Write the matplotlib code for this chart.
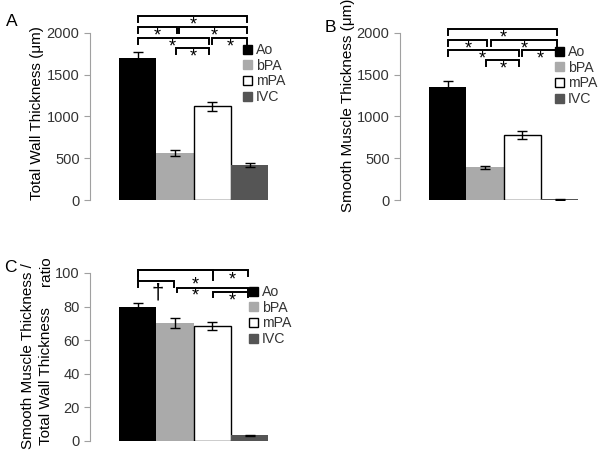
import numpy as np
import matplotlib.pyplot as plt
from matplotlib.patches import Patch

plt.rcParams['font.family'] = ['Liberation Sans', 'DejaVu Sans']
plt.rcParams['font.size'] = 10

vessels = ['Ao', 'bPA', 'mPA', 'IVC']
colors = ['black', '#aaaaaa', 'white', '#555555']

total_wall = [1700, 565, 1120, 420]
total_wall_err = [70, 35, 50, 25]

smooth_muscle = [1355, 390, 775, 10]
smooth_muscle_err = [70, 15, 50, 5]

sm_ratio = [80, 70, 68.5, 3.5]
sm_ratio_err = [2, 3, 2.5, 0.3]

fig = plt.figure(figsize=(6, 4.5), dpi=100)
W, H = 600, 450


def px_axes(left, right, bottom, top):
    return fig.add_axes([left / W, 1 - bottom / H, (right - left) / W, (bottom - top) / H])


def bar_panel(ax, vals, errs, ymax, step):
    x = np.arange(len(vals))
    for i in range(len(vals)):
        ec = 'black' if colors[i] == 'white' else 'none'
        ax.bar(x[i], vals[i], width=1.0, color=colors[i], edgecolor=ec, linewidth=1)
        ax.errorbar(x[i], vals[i], yerr=errs[i], color='black', capsize=3.5,
                    elinewidth=1, capthick=1)
    ax.set_xlim(-1.28, 3.55)
    ax.set_ylim(0, ymax)
    ax.set_yticks(np.arange(0, ymax + 1, step))
    ax.set_xticks([])
    for s in ['top', 'right', 'bottom']:
        ax.spines[s].set_visible(False)
    ax.spines['left'].set_color('#a0a0a0')
    ax.tick_params(axis='y', colors='#a0a0a0', labelcolor='#333333', length=4, labelsize=10.5)


def legend(ax, x, y):
    handles = [Patch(facecolor=c, edgecolor=('black' if c == 'white' else c)) for c in colors]
    ax.legend(handles, vessels, loc='upper left', bbox_to_anchor=(x / W, 1 - y / H),
              bbox_transform=fig.transFigure, frameon=False, handlelength=0.6,
              handleheight=0.6, handletextpad=0.3, labelspacing=0.12, borderpad=0,
              borderaxespad=0, fontsize=10.2, labelcolor='#333333')


def bracket(ax, x1, x2, y, drop):
    ax.plot([x1, x1, x2, x2], [y - drop, y, y, y - drop], color='black', lw=1.4,
            clip_on=False, solid_joinstyle='miter')


def star(ax, x, y, s='*', size=13):
    ax.text(x, y, s, ha='center', va='center', fontsize=size, clip_on=False)


# Panel A
axA = px_axes(90, 270, 200, 33)
bar_panel(axA, total_wall, total_wall_err, 2000, 500)
axA.set_ylabel('Total Wall Thickness (\u03bcm)', fontsize=11)
axA.yaxis.set_label_coords(-0.255, 0.52)
legend(axA, 243, 43)
u = 2000 / 167
for x1, x2, ypx in [(0, 2.94, 16), (0, 1.05, 27), (1.11, 2.94, 27),
                    (0, 1.92, 38), (2.0, 2.94, 38), (1.03, 1.92, 48)]:
    bracket(axA, x1, x2, (200 - ypx) * u, 6 * u)
for x, ypx in [(1.5, 16), (0.53, 27), (2.05, 27), (0.94, 38), (2.47, 38), (1.5, 48)]:
    star(axA, x, (200 - ypx - 9) * u)
fig.text(12 / W, 1 - 22 / H, 'A', fontsize=12.5, ha='center', va='center')

# Panel B
axB = px_axes(400, 580, 200, 33)
bar_panel(axB, smooth_muscle, smooth_muscle_err, 2000, 500)
axB.set_ylabel('Smooth Muscle Thickness (\u03bcm)', fontsize=11)
axB.yaxis.set_label_coords(-0.25, 0.565)
legend(axB, 555, 45)
for x1, x2, ypx in [(0, 2.94, 29), (0, 1.06, 40), (1.17, 2.94, 40),
                    (0, 1.92, 50), (2.0, 2.94, 50), (1.03, 1.92, 60)]:
    bracket(axB, x1, x2, (200 - ypx) * u, 6 * u)
for x, ypx in [(1.5, 29), (0.55, 40), (2.05, 40), (0.94, 50), (2.47, 50), (1.5, 60)]:
    star(axB, x, (200 - ypx - 9) * u)
fig.text(330 / W, 1 - 27 / H, 'B', fontsize=12.5, ha='center', va='center')

# Panel C
axC = px_axes(90, 270, 441, 273)
bar_panel(axC, sm_ratio, sm_ratio_err, 100, 20)
legend(axC, 249, 285)
v = 100 / 168
for x1, x2, ypx, d in [(0, 2.97, 270, 6), (0, 2.03, 270, 10), (0, 0.97, 281, 6),
                       (1.06, 2.97, 288, 4), (2.03, 2.97, 292, 5)]:
    bracket(axC, x1, x2, (441 - ypx) * v, d * v)
star(axC, 0.53, (441 - 293) * v, '\u2020', 16)
for x, ypx in [(1.55, 285), (2.53, 280), (1.55, 296), (2.53, 301)]:
    star(axC, x, (441 - ypx) * v)
fig.text(28 / W, 1 - 356 / H, 'Smooth Muscle Thickness /', rotation=90,
         ha='center', va='center', fontsize=11)
fig.text(46 / W, 1 - 376 / H, 'Total Wall Thickness', rotation=90,
         ha='center', va='center', fontsize=11)
fig.text(46 / W, 1 - 271 / H, 'ratio', rotation=90,
         ha='center', va='center', fontsize=11)
fig.text(10 / W, 1 - 268 / H, 'C', fontsize=12.5, ha='center', va='center')

fig.savefig('out.png', dpi=100)
